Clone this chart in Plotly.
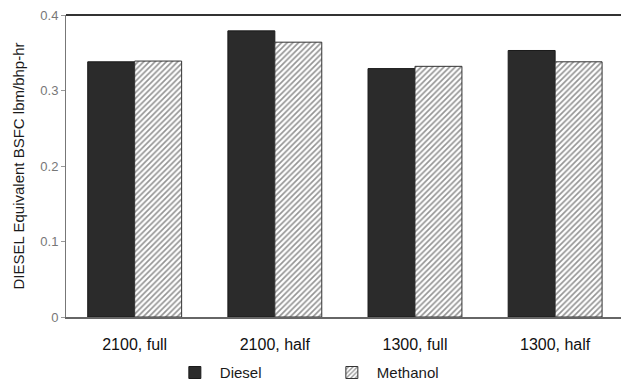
import plotly.graph_objects as go

categories = ["2100, full", "2100, half", "1300, full", "1300, half"]
diesel = [0.338, 0.379, 0.329, 0.353]
methanol = [0.339, 0.364, 0.332, 0.338]
y_ticks = [0, 0.1, 0.2, 0.3, 0.4]
y_tick_labels = ["0", "0.1", "0.2", "0.3", "0.4"]

fig = go.Figure()
fig.add_trace(go.Bar(
    name="Diesel", x=categories, y=diesel,
    marker=dict(color="#2b2b2b", line=dict(color="#1a1a1a", width=1)),
))
fig.add_trace(go.Bar(
    name="Methanol", x=categories, y=methanol,
    marker=dict(color="white",
                line=dict(color="#333333", width=1),
                pattern=dict(shape="/", fgcolor="#2a2a2a", bgcolor="white",
                             size=4, solidity=0.42)),
))

fig.update_layout(
    width=621, height=383,
    margin=dict(l=66, r=0, t=15, b=66, autoexpand=False),
    paper_bgcolor="white", plot_bgcolor="white",
    font=dict(family="Liberation Sans, Arial, sans-serif", size=12, color="#222"),
    barmode="group", bargap=0.33, bargroupgap=0,
    showlegend=True,
    legend=dict(orientation="h", x=0.47, xanchor="center", y=-0.13, yanchor="top",
                font=dict(size=15, color="#1a1a1a"), itemwidth=40,
                entrywidth=102, entrywidthmode="pixels", tracegroupgap=0),
    xaxis=dict(
        range=[-0.49, 3.47], showline=True, linecolor="#666", linewidth=1.5,
        mirror=False, ticks="", showgrid=False, ticklabelstandoff=12,
        tickfont=dict(size=16, color="#111"), automargin=False,
    ),
    yaxis=dict(
        range=[0, 0.4], tickvals=y_ticks, ticktext=y_tick_labels,
        showline=True, linecolor="#777", linewidth=1, ticks="outside",
        ticklen=4, tickcolor="#999", showgrid=False, zeroline=False,
        tickfont=dict(size=13, color="#777"), automargin=False,
        title=dict(text="DIESEL Equivalent BSFC lbm/bhp-hr",
                   font=dict(size=15, color="#1a1a1a"), standoff=12),
    ),
)
# top border line
fig.add_shape(type="line", xref="paper", yref="paper", x0=0, x1=1, y0=1, y1=1,
              line=dict(color="#333", width=2))

fig.write_html("out.html")
